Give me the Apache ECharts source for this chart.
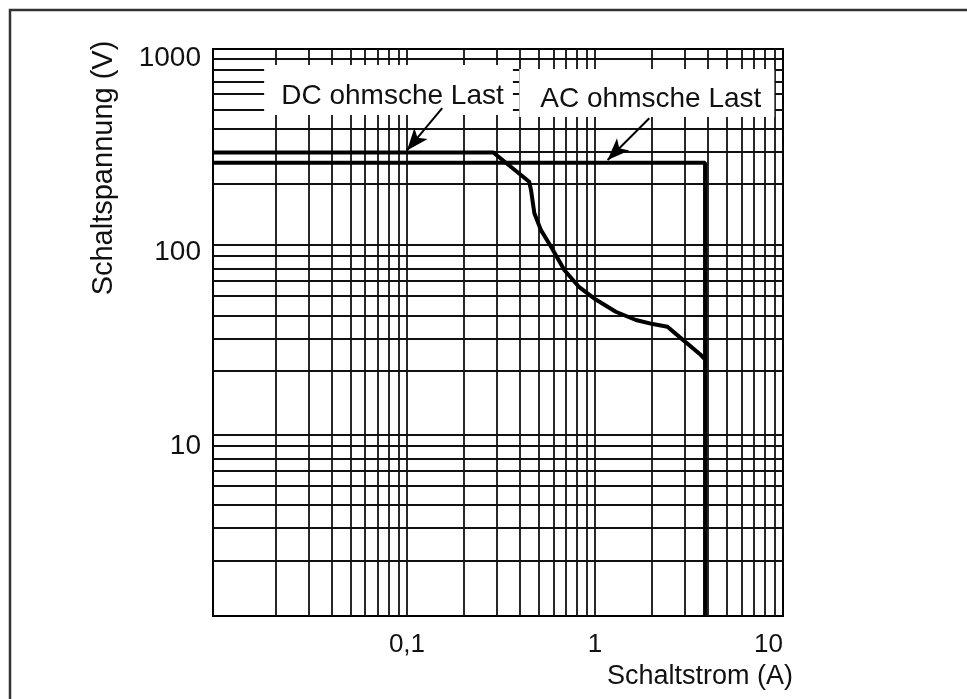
<!DOCTYPE html>
<html><head><meta charset="utf-8">
<script src="https://cdn.jsdelivr.net/npm/echarts@6/dist/echarts.min.js"></script>
<style>html,body{margin:0;padding:0;background:#fff}#c{width:967px;height:699px}</style>
</head><body><div id="c"></div>
<script>
// axis labels
const xTickValues = [0.1, 1, 10];
const xTickLabels = ['0,1', '1', '10'];
const yTickValues = [10, 100, 1000];
const yTickLabels = ['10', '100', '1000'];
const xAxisTitle = 'Schaltstrom (A)';
const yAxisTitle = 'Schaltspannung (V)';
const xRange = [0.0093, 10];
const yRange = [1.33, 1117];

// grid lines (as drawn in the reference)
const xGridValues = [0.02, 0.03, 0.04, 0.05, 0.06, 0.07, 0.08, 0.09, 0.1,
  0.2, 0.3, 0.4, 0.5, 0.6, 0.7, 0.8, 0.9, 1,
  2, 3, 4, 5, 6, 7, 8, 9];
const yGridValues = [1000, 878, 757, 660, 546, 435, 330, 225,
  109, 95.5, 82.5, 71.2, 59.4, 47.2, 35.9, 24.5,
  11.4, 10, 8.64, 7.46, 6.22, 5.0, 3.79, 2.56];

// curves
const dcName = 'DC ohmsche Last';
const acName = 'AC ohmsche Last';
const dcCurve = [[0.0093, 327], [0.288, 327], [0.447, 231], [0.457, 209], [0.476, 159],
  [0.516, 130], [0.583, 107], [0.687, 81], [0.825, 66], [1.01, 57], [1.29, 49.3],
  [1.65, 44.7], [2.03, 42.6], [2.43, 41.3], [2.81, 36.6], [3.66, 29.5], [3.85, 28]];
const acCurve = [[0.0093, 289], [3.85, 289], [3.85, 1.33]];

// annotations (data coordinates)
const dcBox = [[0.0174, 923], [0.366, 510]];
const acBox = [[0.396, 881], [8.99, 498]];
const dcArrow = [[0.154, 554], [0.1, 335]];
const acArrow = [[1.945, 491], [1.167, 299]];

const FONT = '"Liberation Sans", Arial, sans-serif';
function fmt(values, labels) {
  return function (v) {
    for (let i = 0; i < values.length; i++) {
      if (Math.abs(Math.log10(v) - Math.log10(values[i])) < 1e-6) return labels[i];
    }
    return '';
  };
}

const chart = echarts.init(document.getElementById('c'), null, {renderer: 'canvas'});
const gridLineStyle = {color: '#111', width: 1.8, type: 'solid'};
chart.setOption({
  animation: false,
  backgroundColor: '#fff',
  grid: {left: 213, right: 184, top: 49, bottom: 83, show: true, borderColor: '#000', borderWidth: 2, backgroundColor: 'transparent'},
  xAxis: {
    type: 'log', logBase: 10, min: xRange[0], max: xRange[1],
    axisLine: {show: true, lineStyle: {color: '#000', width: 2}},
    axisTick: {show: false},
    splitLine: {show: false},
    axisLabel: {formatter: fmt(xTickValues, xTickLabels), fontFamily: FONT, fontSize: 26, color: '#111', margin: 16, alignMaxLabel: 'right', showMinLabel: true, showMaxLabel: true}
  },
  yAxis: {
    type: 'log', logBase: 10, min: yRange[0], max: yRange[1],
    axisLine: {show: true, lineStyle: {color: '#000', width: 2}},
    axisTick: {show: false},
    splitLine: {show: false},
    axisLabel: {formatter: fmt(yTickValues, yTickLabels), fontFamily: FONT, fontSize: 28, color: '#111', margin: 12}
  },
  graphic: [
    {type: 'rect', shape: {x: 10, y: 10, width: 1000, height: 800}, style: {fill: 'none', stroke: '#333', lineWidth: 2.5}, silent: true, z: -10},
    {type: 'text', x: 104, y: 168, rotation: Math.PI / 2, style: {text: yAxisTitle, font: '29px ' + FONT, fill: '#111', textAlign: 'center', textVerticalAlign: 'middle'}},
    {type: 'text', x: 793, y: 677, style: {text: xAxisTitle, font: '27px ' + FONT, fill: '#111', textAlign: 'right', textVerticalAlign: 'middle'}}
  ],
  series: [
    {
      type: 'line', data: [], z: 1, silent: true,
      markLine: {
        z: 1, silent: true, symbol: 'none', animation: false,
        label: {show: false},
        lineStyle: gridLineStyle,
        data: xGridValues.map(v => ({xAxis: v})).concat(yGridValues.map(v => ({yAxis: v})))
      }
    },
    {
      type: 'line', data: [], z: 3, silent: true,
      markArea: {
        z: 3, silent: true,
        itemStyle: {color: '#fff', opacity: 1, borderWidth: 0},
        label: {show: true, position: 'inside', fontFamily: FONT, fontSize: 28, color: '#111', offset: [4, 6]},
        data: [
          [{name: dcName, coord: dcBox[0]}, {coord: dcBox[1]}],
          [{name: acName, coord: acBox[0]}, {coord: acBox[1]}]
        ]
      }
    },
    {
      name: acName, type: 'line', data: acCurve, z: 5, showSymbol: false, silent: true,
      lineStyle: {color: '#000', width: 4}
    },
    {
      name: dcName, type: 'line', data: dcCurve, z: 5, showSymbol: false, silent: true,
      lineStyle: {color: '#000', width: 4}
    },
    {
      type: 'line', data: [], z: 6, silent: true,
      markLine: {
        z: 6, silent: true, symbol: ['none', 'arrow'], symbolSize: [13, 22],
        label: {show: false},
        lineStyle: {color: '#000', width: 2, type: 'solid'},
        itemStyle: {color: '#000'},
        data: [
          [{coord: dcArrow[0]}, {coord: dcArrow[1]}],
          [{coord: acArrow[0]}, {coord: acArrow[1]}]
        ]
      }
    }
  ]
});
</script></body></html>
